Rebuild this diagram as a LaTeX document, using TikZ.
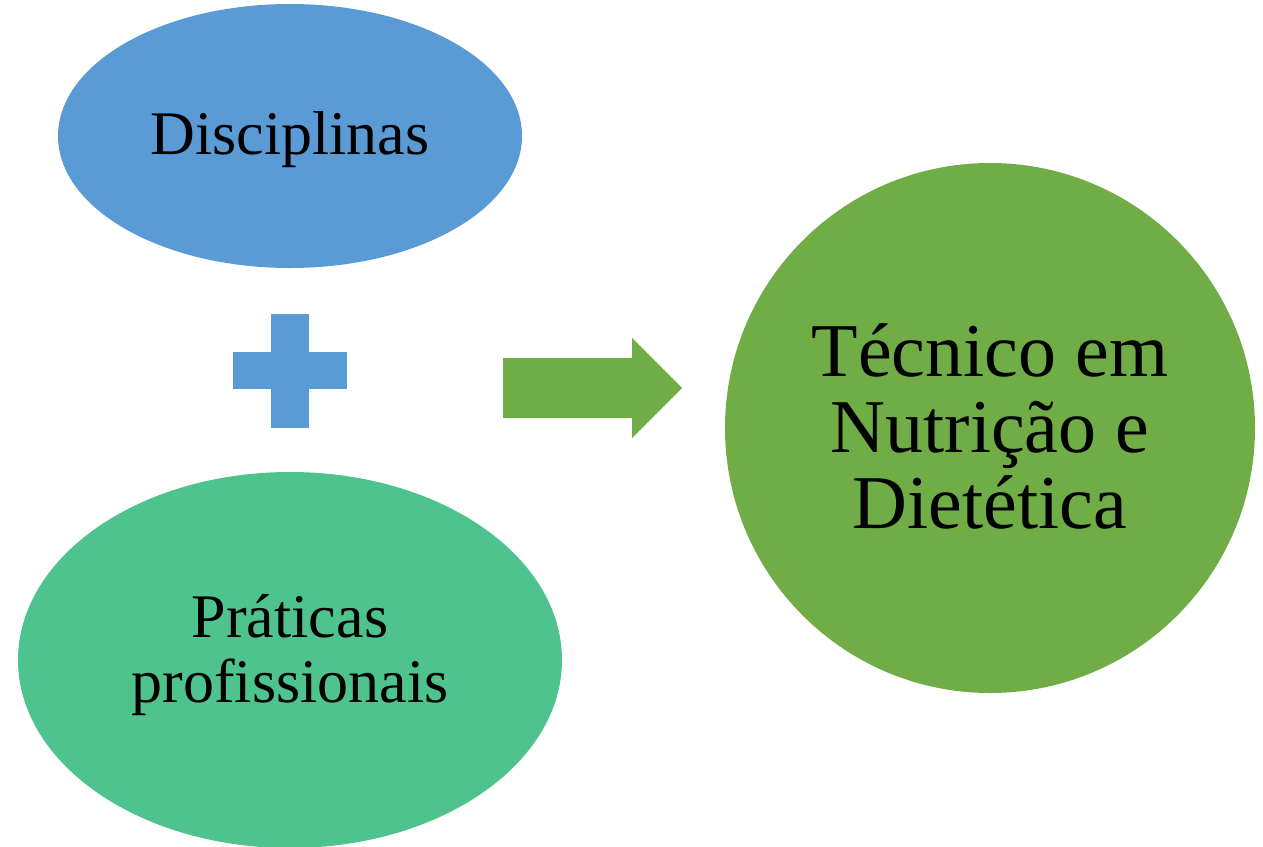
\documentclass[tikz,border=0pt]{standalone}
\usepackage{fontspec}
\setmainfont{Liberation Serif}
\usetikzlibrary{shapes.geometric}
\definecolor{blueA}{HTML}{5B9BD5}
\definecolor{greenA}{HTML}{4FC38E}
\definecolor{greenB}{HTML}{70AD47}
\begin{document}
\begin{tikzpicture}[x=1pt,y=-1pt,
  lbl/.style={align=center,text=black,inner sep=0pt}]
\useasboundingbox (0,0) rectangle (1263,846);
\begin{scope}
\clip (0,0) rectangle (1263,846);
% Disciplinas ellipse
\fill[blueA] (290,136) ellipse [x radius=232, y radius=132];
\node[lbl,font=\fontsize{62}{70}\selectfont] (disc) at (290,140) {Disciplinas};
% plus
\fill[blueA] (233,352) rectangle (347,389);
\fill[blueA] (271,314) rectangle (309,428);
\coordinate (plus) at (290,371);
% Praticas ellipse
\fill[greenA] (290,660) ellipse [x radius=272, y radius=188];
\node[lbl,font=\fontsize{62}{65}\selectfont] (prat) at (290,655) {Práticas\\profissionais};
% arrow
\fill[greenB] (503,358) -- (632,358) -- (632,338) -- (682,388) -- (632,438) -- (632,418) -- (503,418) -- cycle;
\coordinate (arr) at (592,388);
% circle
\fill[greenB] (990,428) circle [radius=265];
\node[lbl,font=\fontsize{76}{76}\selectfont] (tec) at (990,426) {Técnico em\\Nutrição e\\Dietética};
\end{scope}
\end{tikzpicture}
\end{document}
